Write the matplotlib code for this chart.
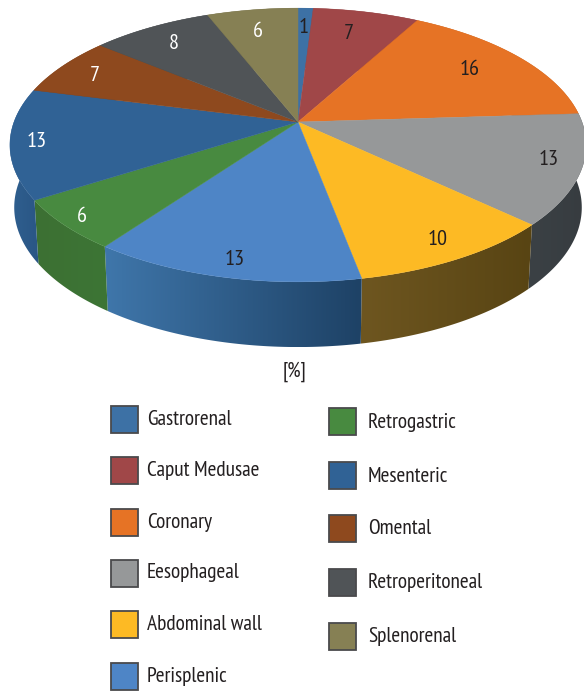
import numpy as np
import matplotlib
matplotlib.use('Agg')
import matplotlib.pyplot as plt
from matplotlib.colors import to_rgb
from matplotlib.patches import Polygon, Rectangle

plt.rcParams['font.family'] = ['PT Sans Narrow', 'Fira Sans Condensed', 'Roboto Condensed',
                               'Liberation Sans', 'DejaVu Sans']

# data
names = ['Gastrorenal', 'Caput Medusae', 'Coronary', 'Eesophageal', 'Abdominal wall', 'Perisplenic',
         'Retrogastric', 'Mesenteric', 'Omental', 'Retroperitoneal', 'Splenorenal']
values = [1, 7, 16, 13, 10, 13, 6, 13, 7, 8, 6]

colors = ['#3d71a5', '#a04748', '#e67325', '#969899', '#fdba24', '#4e85c6',
          '#488a40', '#306295', '#8e491e', '#505457', '#868054']
wall_left = ['#2f5a85', '#7a3637', '#a85518', '#3b4145', '#6e5620', '#3f76aa',
             '#3c7033', '#2f5f8f', '#6a3616', '#3a3d40', '#605c3c']
wall_right = ['#2f5a85', '#7a3637', '#a85518', '#373c40', '#584413', '#1e4266',
              '#3d7535', '#2a5685', '#6a3616', '#3a3d40', '#605c3c']
label_colors = ['#231f20', '#231f20', '#231f20', '#231f20', '#231f20', '#231f20',
                'white', 'white', 'white', 'white', 'white']
label_pos = [(304, 27), (349, 33), (470, 69), (549, 159), (438, 239), (235, 259),
             (82, 216), (37, 141), (95, 75), (174, 43), (258, 31)]

# pie geometry in pixels: apex, radii and tilt of the circle
cx, cy = 298, 122
a, b, k = 284, 133, 0.168


def top_edge(t):
    w = 1 + k * np.cos(t)
    return cx + a * np.sin(t) / w, cy - b * np.cos(t) / w


def bottom_edge(t):
    x, y = top_edge(t)
    return cx + (x - cx) * 0.985, cy + (y - cy) * 1.02 + 62


fig = plt.figure(figsize=(5.84, 6.91), dpi=100)
ax = fig.add_axes([0, 0, 1, 1])
ax.axis('off')

edges = np.cumsum([0] + values) / sum(values) * 2 * np.pi

# side walls first, the top covers what is behind it
for i in range(len(values)):
    ts = np.linspace(edges[i], edges[i + 1], 80)
    x0, y0 = top_edge(ts)
    x1, y1 = bottom_edge(ts)
    xs = np.r_[x0, x1[::-1]]
    ys = np.r_[y0, y1[::-1]]
    poly = Polygon(np.c_[xs, ys], closed=True, facecolor='none', edgecolor='none')
    ax.add_patch(poly)
    c0, c1 = np.array(to_rgb(wall_left[i])), np.array(to_rgb(wall_right[i]))
    grad = np.linspace(0, 1, 64)[None, :, None]
    img = ax.imshow(c0 + (c1 - c0) * grad, extent=(xs.min(), xs.max(), ys.max(), ys.min()),
                    aspect='auto', interpolation='bilinear', zorder=1)
    img.set_clip_path(poly)

ax.set_xlim(0, 584)
ax.set_ylim(691, 0)

# top of the pie
for i in range(len(values)):
    ts = np.linspace(edges[i], edges[i + 1], 80)
    x, y = top_edge(ts)
    ax.fill(np.r_[cx, x], np.r_[cy, y], color=colors[i], lw=0.3, zorder=2)

for v, pos, c in zip(values, label_pos, label_colors):
    ax.text(pos[0], pos[1], str(v), color=c, fontsize=16, ha='center', va='center', zorder=3)

ax.text(295, 372, '[%]', color='#231f20', fontsize=15, ha='center', va='center')

# legend, two hand placed columns
legend_x = [111, 329]
text_gap = [36, 39]
legend_y = [[419.5, 470.5, 522, 573, 624, 676], [421, 475, 528, 582, 636]]
idx = 0
for col in range(2):
    for y in legend_y[col]:
        ax.add_patch(Rectangle((legend_x[col], y - 13.5), 27, 27, facecolor=colors[idx],
                               edgecolor='#4a4a4c', lw=1.3))
        ax.text(legend_x[col] + text_gap[col], y + col, names[idx], color='#231f20', fontsize=15.4,
                ha='left', va='center')
        idx += 1

plt.savefig('out.png', dpi=100)
